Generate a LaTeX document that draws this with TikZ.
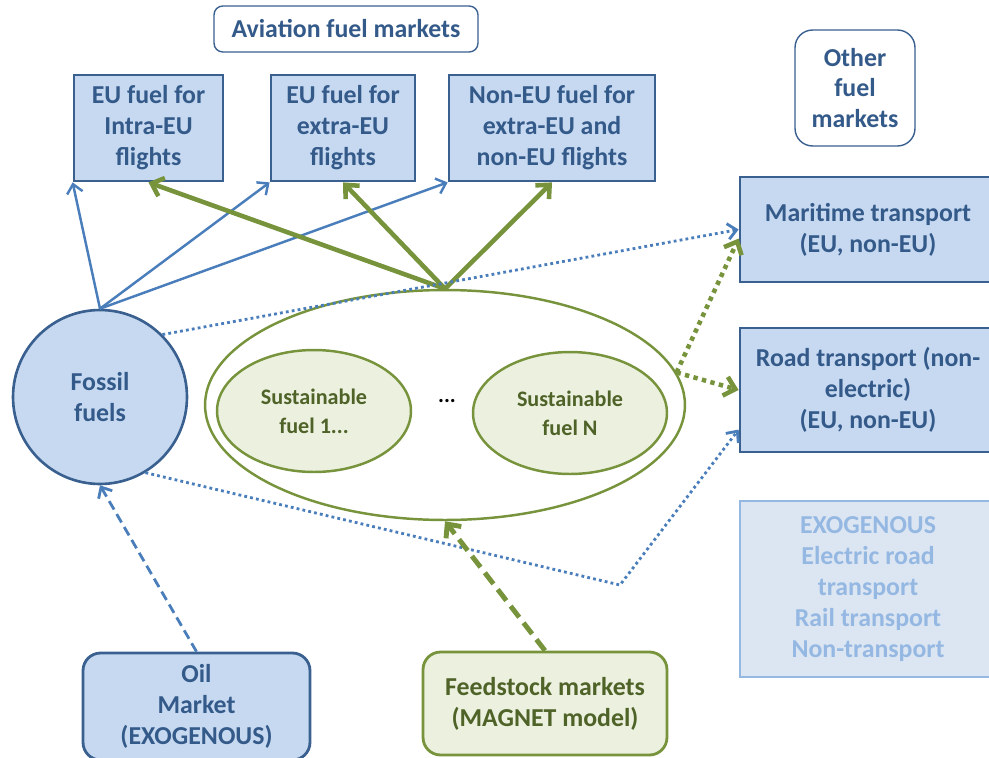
\documentclass[tikz,border=0pt]{standalone}
\usepackage{fontspec}
\setmainfont{Carlito}
\usetikzlibrary{shapes.geometric,arrows.meta}
\definecolor{boxblue}{HTML}{C6D9F1}
\definecolor{edgeblue}{HTML}{3A6090}
\definecolor{lineblue}{HTML}{4A7EBB}
\definecolor{textblue}{HTML}{345A8A}
\definecolor{leafgreen}{HTML}{EBF1DE}
\definecolor{linegreen}{HTML}{77933C}
\definecolor{textgreen}{HTML}{4F6228}
\definecolor{paleblue}{HTML}{DCE6F2}
\definecolor{paleedge}{HTML}{95B8E3}
\begin{document}
\begin{tikzpicture}[x=0.02cm,y=-0.02cm,
    every node/.style={font=\bfseries\fontsize{14.7}{17.6}\selectfont,align=center,inner sep=0pt},
    market/.style={draw=edgeblue,line width=1.6pt,fill=boxblue,text=textblue,minimum height=2.12cm},
    title/.style={draw=edgeblue,line width=0.8pt,fill=white,text=textblue,rounded corners=5pt},
    fuel/.style={ellipse,draw=linegreen,line width=1.4pt,fill=leafgreen,text=textgreen,
      minimum width=3.88cm,minimum height=2.44cm,font=\bfseries\fontsize{12.6}{16.4}\selectfont},
    bluearrow/.style={draw=lineblue,line width=1.4pt,-{Straight Barb[length=5pt,width=9pt]}},
    greenarrow/.style={draw=linegreen,line width=2.6pt,-{Straight Barb[length=6pt,width=11pt]}}]
    \useasboundingbox (0,0) rectangle (989,757);
    % titles
    \node[title,minimum width=5.28cm,minimum height=0.92cm] (avi) at (346,29) {Aviation fuel markets};
    \node[title,minimum width=2.4cm,minimum height=2.32cm,rounded corners=10pt] (other) at (855,88) {Other\\fuel\\markets};
    % aviation fuel markets
    \node[market,minimum width=2.98cm] (intra) at (148.5,128) {EU fuel for\\Intra-EU\\flights};
    \node[market,minimum width=2.88cm] (extra) at (343,128) {EU fuel for\\extra-EU\\flights};
    \node[market,minimum width=4.12cm] (noneu) at (552,128) {Non-EU fuel for\\extra-EU and\\non-EU flights};
    % other fuel markets
    \node[market,minimum width=5.12cm,minimum height=2.1cm] (mari) at (868,229.5) {Maritime transport\\(EU, non-EU)};
    \node[market,minimum width=5.12cm,minimum height=2.48cm] (road) at (868,390) {Road transport (non-\\electric)\\(EU, non-EU)};
    \node[draw=paleedge,line width=1.6pt,fill=paleblue,text=paleedge,minimum width=5.12cm,minimum height=3.52cm]
      (exo) at (868,589) {EXOGENOUS\\Electric road\\transport\\Rail transport\\Non-transport};
    % fuels
    \node[circle,draw=edgeblue,line width=1.5pt,fill=boxblue,text=textblue,minimum size=3.48cm] (fossil) at (100,397) {Fossil\\fuels};
    \node[ellipse,draw=linegreen,line width=1.4pt,minimum width=9.6cm,minimum height=4.6cm] (sust) at (445,405) {};
    \node[fuel] (sf1) at (314,411) {Sustainable\\fuel 1...};
    \node[fuel] (sfn) at (570,413) {Sustainable\\fuel N};
    \node[font=\bfseries\fontsize{12.6}{16.4}\selectfont] (dots) at (447,401) {...};
    % feedstocks
    \node[draw=edgeblue,line width=1.6pt,fill=boxblue,text=textblue,rounded corners=10pt,minimum width=4.54cm,minimum height=2.14cm]
      (oil) at (196.5,706.5) {Oil\\Market\\(EXOGENOUS)};
    \node[draw=linegreen,line width=1.6pt,fill=leafgreen,text=textgreen,rounded corners=10pt,minimum width=4.88cm,minimum height=2.06cm]
      (feed) at (545,703.5) {Feedstock markets\\(MAGNET model)};
    % links
    \draw[bluearrow] (fossil.north) -- (intra.south west);
    \draw[bluearrow] (fossil.north) -- (extra.south west);
    \draw[bluearrow] (fossil.north) -- (noneu.south west);
    \draw[greenarrow] (sust.north) -- (intra.south);
    \draw[greenarrow] (sust.north) -- (extra.south);
    \draw[greenarrow] (sust.north) -- (noneu.south);
    \coordinate (kink) at (620,585);
    \draw[bluearrow,line width=1.6pt,dash pattern=on 1.6pt off 1.8pt] (fossil.45) -- (mari.west);
    \draw[bluearrow,line width=1.6pt,dash pattern=on 1.6pt off 1.8pt] (fossil.-59) -- (kink) -- (road.-163);
    \draw[greenarrow,dash pattern=on 2.5pt off 2.5pt] (sust.8) -- (mari.-176);
    \draw[greenarrow,dash pattern=on 2.5pt off 2.5pt] (sust.8) -- (road.west);
    \draw[bluearrow,line width=1.6pt,dash pattern=on 5.5pt off 3pt] (oil.north) -- (fossil.south);
    \draw[greenarrow,line width=2.8pt,dash pattern=on 8pt off 4pt] (feed.north) -- (sust.south);
\end{tikzpicture}
\end{document}
